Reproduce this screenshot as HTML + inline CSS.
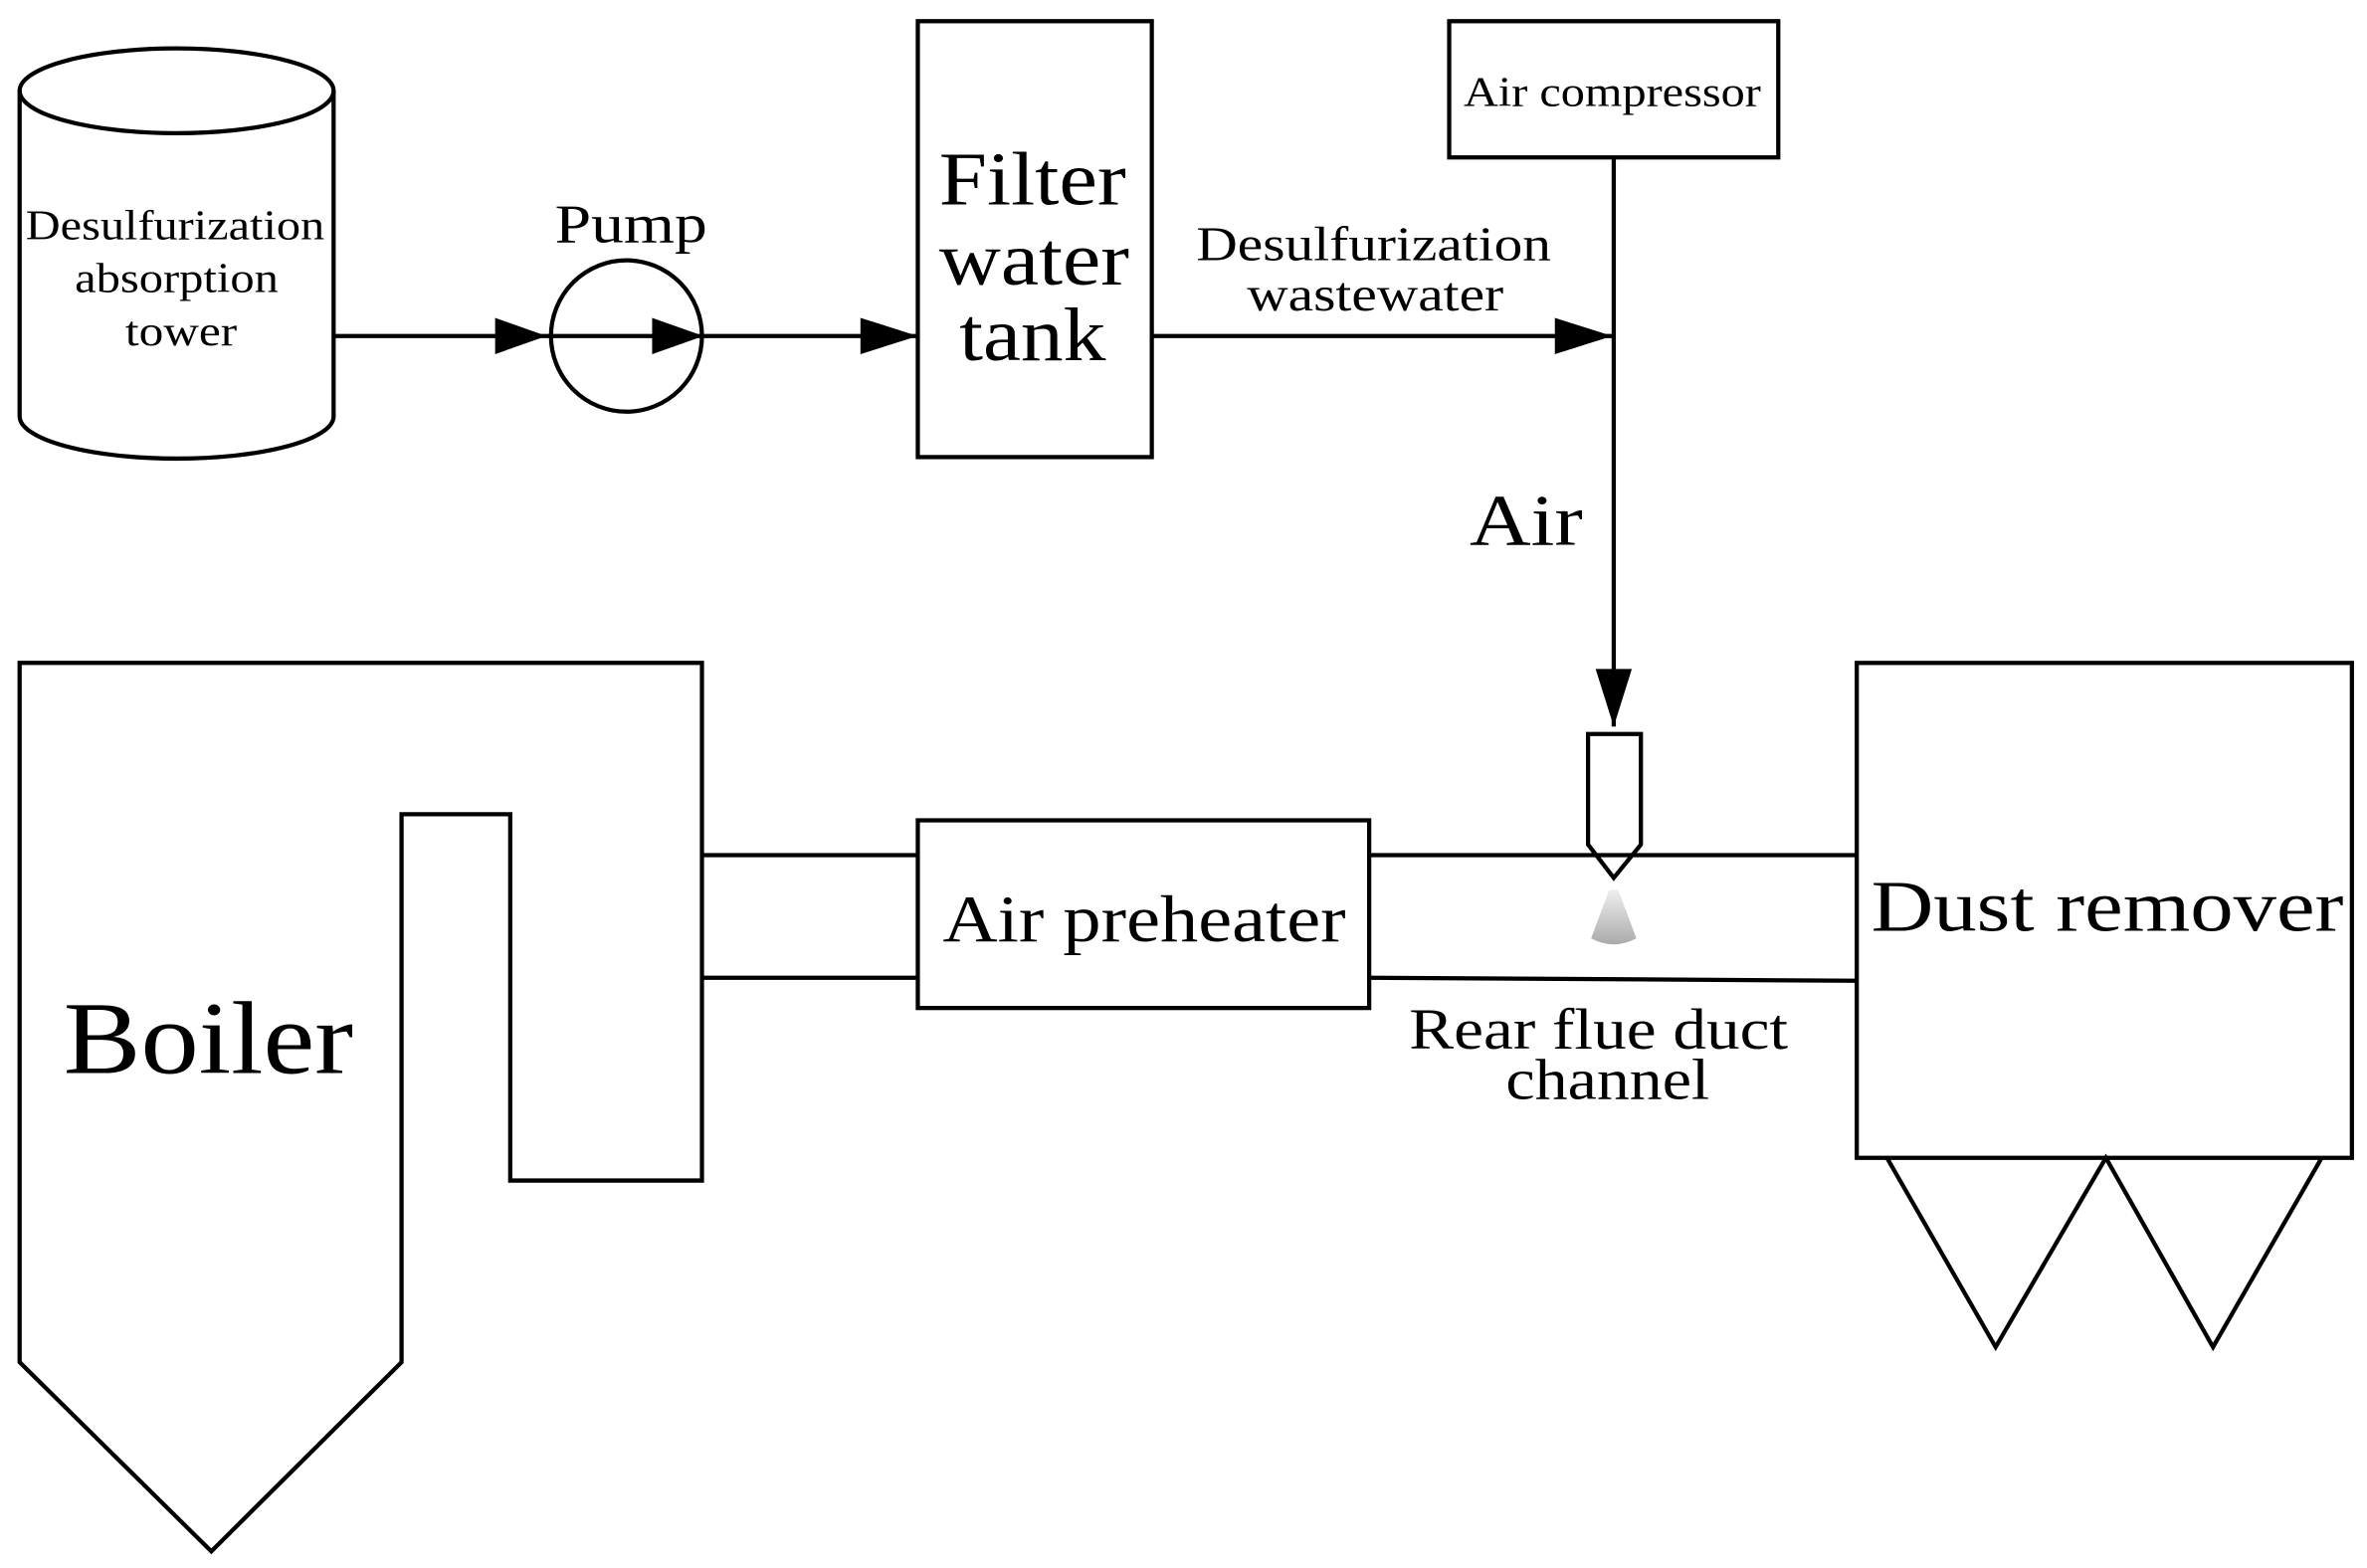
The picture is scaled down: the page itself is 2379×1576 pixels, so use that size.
<!DOCTYPE html>
<html><head><style>html,body{margin:0;padding:0;background:#fff}svg{display:block}</style></head>
<body>
<svg width="2379" height="1576" viewBox="0 0 1568 1036" preserveAspectRatio="none" xmlns="http://www.w3.org/2000/svg" font-family="Liberation Serif, serif">
<defs><linearGradient id="sp" x1="0" y1="0" x2="0" y2="1"><stop offset="0" stop-color="#eee"/><stop offset="1" stop-color="#aaa"/></linearGradient></defs>
<g fill="none" stroke="#000" stroke-width="2.8">
<path d="M13,60 L13,275 A104,28 0 0 0 221,275 L221,60"/>
<ellipse cx="117" cy="60" rx="104" ry="28"/>
<circle cx="415" cy="222" r="50"/>
<rect x="608" y="14" width="155" height="288"/>
<rect x="960" y="14" width="218" height="90"/>
<line x1="221" y1="222" x2="608" y2="222"/>
<line x1="763" y1="222" x2="1069" y2="222"/>
<line x1="1069" y1="104" x2="1069" y2="480"/>
<path d="M1052,485 L1087,485 L1087,558 L1069,580 L1052,558 Z"/>
<path d="M13,438 L465,438 L465,780 L338,780 L338,538 L266,538 L266,900 L140,1025 L13,900 Z"/>
<line x1="465" y1="565" x2="608" y2="565"/>
<line x1="465" y1="646" x2="608" y2="646"/>
<rect x="608" y="542" width="299" height="124"/>
<line x1="907" y1="565" x2="1230" y2="565"/>
<line x1="907" y1="646" x2="1230" y2="648"/>
<rect x="1230" y="438" width="328" height="327"/>
<path d="M1250,765 L1322,890 L1395,765 L1466,890 L1538,765"/>
</g>
<g fill="#000">
<path d="M328,210 L362,222 L328,234 Z"/>
<path d="M432,210 L466,222 L432,234 Z"/>
<path d="M570,210 L608,222 L570,234 Z"/>
<path d="M1030,210 L1068,222 L1030,234 Z"/>
<path d="M1057,442 L1069,480 L1081,442 Z"/>
</g>
<path d="M1066,588 L1072,588 L1084,620 Q1069,628 1054,620 Z" fill="url(#sp)"/>
<g text-anchor="middle" fill="#000" lengthAdjust="spacingAndGlyphs">
<text x="116" y="158" font-size="28" textLength="198" lengthAdjust="spacingAndGlyphs">Desulfurization</text>
<text x="117" y="193" font-size="28" textLength="135" lengthAdjust="spacingAndGlyphs">absorption</text>
<text x="120" y="228" font-size="28" textLength="74" lengthAdjust="spacingAndGlyphs">tower</text>
<text x="418" y="160" font-size="36" textLength="101" lengthAdjust="spacingAndGlyphs">Pump</text>
<text x="684" y="135" font-size="50" textLength="124" lengthAdjust="spacingAndGlyphs">Filter</text>
<text x="685" y="188" font-size="50" textLength="126" lengthAdjust="spacingAndGlyphs">water</text>
<text x="684" y="238" font-size="50" textLength="97" lengthAdjust="spacingAndGlyphs">tank</text>
<text x="910" y="172" font-size="32" textLength="235" lengthAdjust="spacingAndGlyphs">Desulfurization</text>
<text x="911" y="205" font-size="32" textLength="170" lengthAdjust="spacingAndGlyphs">wastewater</text>
<text x="1068" y="70" font-size="28" textLength="197" lengthAdjust="spacingAndGlyphs">Air compressor</text>
<text x="1011" y="360" font-size="48" textLength="75" lengthAdjust="spacingAndGlyphs">Air</text>
<text x="758" y="622" font-size="44" textLength="267" lengthAdjust="spacingAndGlyphs">Air preheater</text>
<text x="1059" y="693" font-size="38" textLength="251" lengthAdjust="spacingAndGlyphs">Rear flue duct</text>
<text x="1065" y="726" font-size="38" textLength="135" lengthAdjust="spacingAndGlyphs">channel</text>
<text x="1396" y="615" font-size="48" textLength="313" lengthAdjust="spacingAndGlyphs">Dust remover</text>
<text x="138" y="709" font-size="68" textLength="192" lengthAdjust="spacingAndGlyphs">Boiler</text>
</g>
</svg>
</body></html>
